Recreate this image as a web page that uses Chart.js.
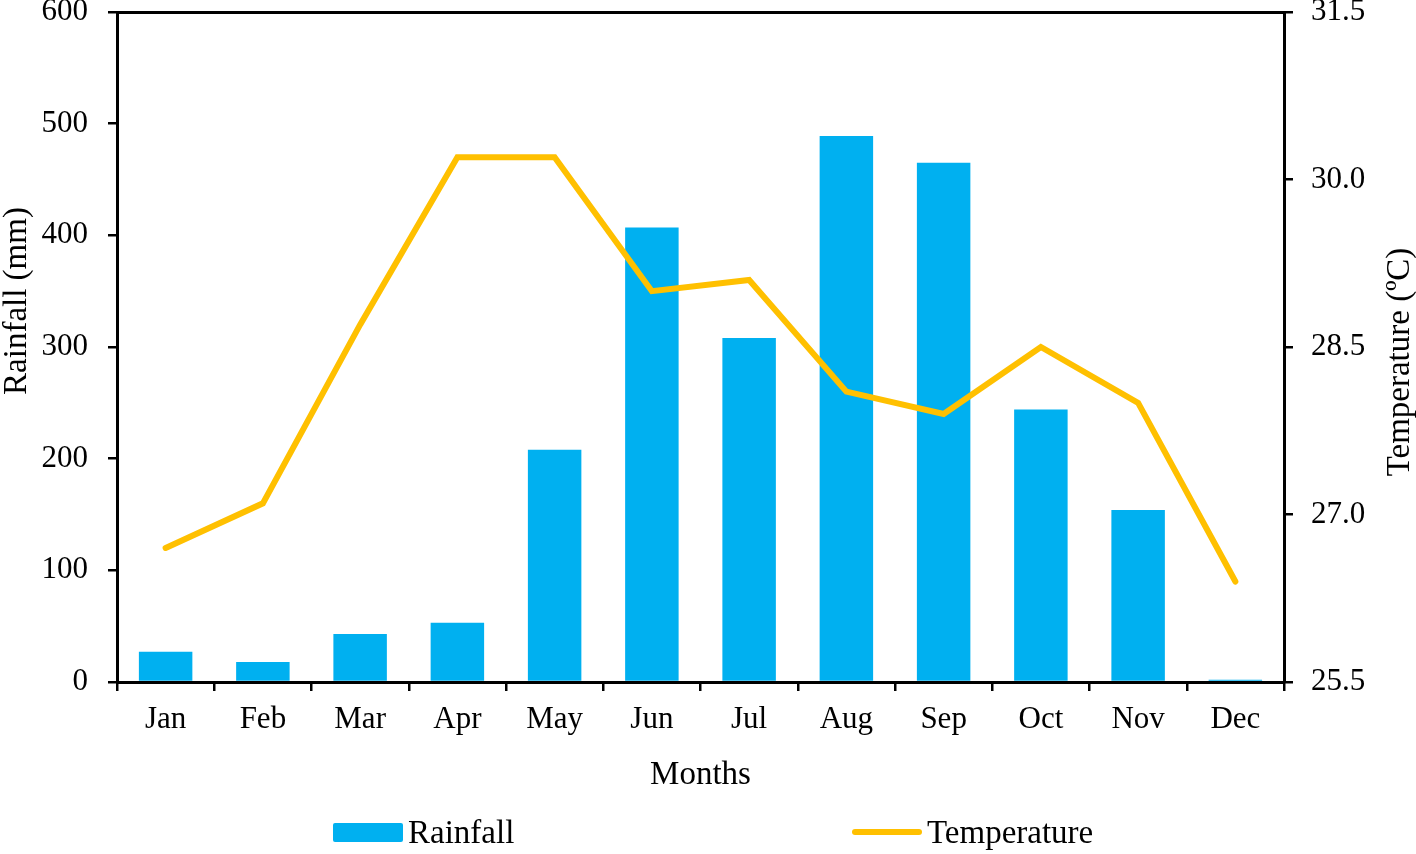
<!DOCTYPE html>
<html>
<head>
<meta charset="utf-8">
<script src="https://cdn.jsdelivr.net/npm/chart.js@4/dist/chart.umd.min.js"></script>
<style>
  html, body { margin: 0; padding: 0; background: #fff; }
  #wrap { position: relative; width: 1416px; height: 854px; }
  #legend { position: absolute; left: 0; top: 0; width: 1416px; height: 854px; pointer-events: none;
            font-family: "Liberation Serif", "Times New Roman", serif; font-size: 33px; color: #000; }
  .lg-item { position: absolute; top: 812px; height: 40px; line-height: 40px; }
  .lg-box { position: absolute; left: 0; top: 11px; width: 70px; height: 19px; background: #00B0F0; border-radius: 2px; }
  .lg-line { position: absolute; left: 0; top: 17px; width: 70px; height: 6px; background: #FFC000; border-radius: 3px; }
  .lg-text { position: absolute; left: 75px; top: 0; white-space: nowrap; }
</style>
</head>
<body>
<div id="wrap">
  <canvas id="climateChart" width="1416" height="854"></canvas>
  <div id="legend">
    <div class="lg-item" style="left:333px"><div class="lg-box"></div><div class="lg-text">Rainfall</div></div>
    <div class="lg-item" style="left:852px"><div class="lg-line"></div><div class="lg-text">Temperature</div></div>
  </div>
</div>
<script>
// 데이터
const months = ['Jan', 'Feb', 'Mar', 'Apr', 'May', 'Jun', 'Jul', 'Aug', 'Sep', 'Oct', 'Nov', 'Dec'];
const rainfall = [27, 18, 43, 53, 208, 407, 308, 489, 465, 244, 154, 2];
const temperature = [26.7, 27.1, 28.7, 30.2, 30.2, 29.0, 29.1, 28.1, 27.9, 28.5, 28.0, 26.4];
const rainfallTicks = [0, 100, 200, 300, 400, 500, 600];
const temperatureTicks = [25.5, 27.0, 28.5, 30.0, 31.5];

const serif = '"Liberation Serif", "Times New Roman", serif';
const tickFont = { family: serif, size: 31 };
const titleFont = { family: serif, size: 33 };

// y축 제목 (오른쪽 제목은 아래에서 위로 읽히도록 직접 그림)
const axisTitles = {
    id: 'axisTitles',
    afterDraw(chart) {
        const { ctx, chartArea } = chart;
        const midY = (chartArea.top + chartArea.bottom) / 2;
        ctx.save();
        ctx.fillStyle = '#000';
        ctx.font = `${titleFont.size}px ${serif}`;
        ctx.textAlign = 'center';
        ctx.textBaseline = 'middle';
        ctx.translate(chartArea.left - 100, midY - 46);
        ctx.rotate(-Math.PI / 2);
        ctx.fillText('Rainfall (mm)', 0, 0);
        ctx.restore();

        ctx.save();
        ctx.fillStyle = '#000';
        ctx.font = `${titleFont.size}px ${serif}`;
        ctx.textAlign = 'center';
        ctx.textBaseline = 'middle';
        ctx.translate(chartArea.right + 116, midY + 15);
        ctx.rotate(-Math.PI / 2);
        ctx.fillText('Temperature (\u00BAC)', 0, 0);
        ctx.restore();
    }
};

const axisGrid = {
    display: true,
    drawOnChartArea: false,
    drawTicks: true,
    tickLength: 9,
    color: '#000',
    lineWidth: 2.5
};
const axisBorder = { display: true, color: '#000', width: 3 };

const ctx = document.getElementById('climateChart').getContext('2d');
new Chart(ctx, {
    data: {
        labels: months,
        datasets: [{
            type: 'line',
            label: 'Temperature',
            data: temperature,
            yAxisID: 'y1',
            xAxisID: 'x',
            borderColor: '#FFC000',
            borderWidth: 6,
            tension: 0,
            pointRadius: 0,
            borderCapStyle: 'round',
            borderJoinStyle: 'miter',
            order: 0
        }, {
            type: 'bar',
            label: 'Rainfall',
            data: rainfall,
            yAxisID: 'y',
            xAxisID: 'x',
            backgroundColor: '#00B0F0',
            barPercentage: 0.55,
            categoryPercentage: 1.0,
            order: 1
        }]
    },
    options: {
        responsive: false,
        animation: false,
        layout: { padding: { left: 0, right: 0, top: 0, bottom: 59 } },
        plugins: {
            legend: { display: false },
            tooltip: { enabled: false }
        },
        scales: {
            x: {
                position: 'bottom',
                offset: true,
                grid: { ...axisGrid, offset: true },
                border: axisBorder,
                ticks: { color: '#000', font: tickFont, padding: 10, maxRotation: 0, autoSkip: false },
                title: { display: true, text: 'Months', color: '#000', font: titleFont, padding: { top: 4, bottom: 0 } },
                afterFit: s => { s.height = 113; s.paddingLeft = 0; s.paddingRight = 0; }
            },
            xTop: {
                type: 'category',
                position: 'top',
                offset: true,
                grid: { display: false, drawTicks: false },
                border: axisBorder,
                ticks: { display: false }
            },
            y: {
                position: 'left',
                min: rainfallTicks[0],
                max: rainfallTicks[rainfallTicks.length - 1],
                afterBuildTicks: s => { s.ticks = rainfallTicks.map(v => ({ value: v })); },
                grid: axisGrid,
                border: axisBorder,
                ticks: { color: '#000', font: tickFont, padding: 20 },
                afterFit: s => { s.width = 117; s.paddingTop = 12; s.paddingBottom = 0; }
            },
            y1: {
                position: 'right',
                min: temperatureTicks[0],
                max: temperatureTicks[temperatureTicks.length - 1],
                afterBuildTicks: s => { s.ticks = temperatureTicks.map(v => ({ value: v })); },
                grid: axisGrid,
                border: axisBorder,
                ticks: { color: '#000', font: tickFont, padding: 18, callback: v => Number(v).toFixed(1) },
                afterFit: s => { s.width = 132; s.paddingTop = 12; s.paddingBottom = 0; }
            }
        }
    },
    plugins: [axisTitles]
});
</script>
</body>
</html>
